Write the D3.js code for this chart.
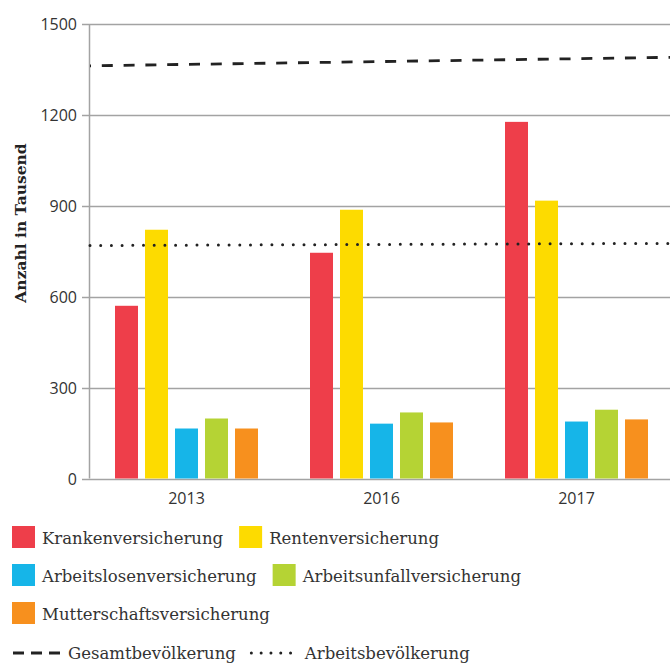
<!DOCTYPE html>
<html>
<head>
<meta charset="utf-8">
<script src="https://cdn.jsdelivr.net/npm/d3@7"></script>
<style>
  body { margin: 0; background: #fff; }
  .tick-label { font-family: "Open Sans", sans-serif; font-size: 16px; fill: #333; }
  .legend-label { font-family: "DejaVu Serif", serif; font-size: 16.5px; fill: #333; }
  .axis-title { font-family: "DejaVu Serif", serif; font-size: 15.5px; font-weight: bold; fill: #222; }
</style>
</head>
<body>
<div id="visualization"></div>
<script>
'use strict';

// values in thousands
const years = ['2013', '2016', '2017'];
const series = ['Krankenversicherung', 'Rentenversicherung', 'Arbeitslosenversicherung', 'Arbeitsunfallversicherung', 'Mutterschaftsversicherung'];
const seriesColors = ['#ee3e4a', '#fddb00', '#16b5e8', '#b5d334', '#f7901e'];

const kranken = [570, 745, 1177];
const renten = [821, 887, 917];
const arbeitslosen = [165, 181, 188];
const arbeitsunfall = [198, 218, 227];
const mutterschaft = [165, 185, 195];

// reference lines, value at left and right edge of the plot
const gesamtBevoelkerung = [1362, 1390];
const arbeitsBevoelkerung = [769, 776];

const yTicks = [0, 300, 600, 900, 1200, 1500];

const width = 670, height = 663;
const margins = { top: 24, left: 89, right: 0, bottom: 184 };

const svg = d3.select('#visualization')
    .append('svg')
    .attr('width', width)
    .attr('height', height);

const values = [kranken, renten, arbeitslosen, arbeitsunfall, mutterschaft];
const data = years.map((year, i) => ({
    year: year,
    bars: series.map((s, j) => ({ key: s, value: values[j][i], color: seriesColors[j] }))
}));

const y = d3.scaleLinear().domain([0, 1500]).range([height - margins.bottom - 0.5, margins.top]);
const x0 = d3.scaleBand().domain(years).range([margins.left, 674]);
const x1 = d3.scaleBand().domain(series).range([0, 143]).paddingInner(7 / 30);

// grid lines and y labels
svg.selectAll('.grid')
    .data(yTicks)
    .enter()
        .append('line')
        .attr('x1', margins.left - 7)
        .attr('x2', width)
        .attr('y1', d => Math.round(y(d)) + 0.5)
        .attr('y2', d => Math.round(y(d)) + 0.5)
        .attr('stroke', '#a3a3a3')
        .attr('stroke-width', 1.5);

svg.selectAll('.y-label')
    .data(yTicks)
    .enter()
        .append('text')
        .classed('tick-label', true)
        .attr('x', margins.left - 12)
        .attr('y', d => y(d) + 6)
        .attr('text-anchor', 'end')
        .text(d => d);

svg.append('line')
    .attr('x1', margins.left + 0.5)
    .attr('x2', margins.left + 0.5)
    .attr('y1', y(1500))
    .attr('y2', y(0))
    .attr('stroke', '#a3a3a3')
    .attr('stroke-width', 1.5);

svg.append('text')
    .classed('axis-title', true)
    .attr('transform', 'translate(26,223) rotate(-90)')
    .attr('text-anchor', 'middle')
    .text('Anzahl in Tausend');

// bars
const groups = svg.selectAll('.year')
    .data(data)
    .enter()
        .append('g')
        .attr('transform', d => 'translate(' + (x0(d.year) + x0.bandwidth() / 2 - 71.5) + ',0)');

groups.selectAll('rect')
    .data(d => d.bars)
    .enter()
        .append('rect')
        .attr('x', d => x1(d.key))
        .attr('width', x1.bandwidth())
        .attr('y', d => y(d.value))
        .attr('height', d => y(0) - y(d.value))
        .attr('fill', d => d.color);

svg.selectAll('.x-label')
    .data(years)
    .enter()
        .append('text')
        .classed('tick-label', true)
        .attr('x', d => x0(d) + x0.bandwidth() / 2)
        .attr('y', 504)
        .attr('text-anchor', 'middle')
        .text(d => d);

// reference lines
const xl = d3.scaleLinear().domain([0, 1]).range([margins.left + 1, width]);
const line = d3.line().x((d, i) => xl(i)).y(d => y(d));

svg.append('path')
    .attr('d', line(gesamtBevoelkerung))
    .attr('fill', 'none')
    .attr('stroke', '#222')
    .attr('stroke-width', 2.8)
    .attr('stroke-dasharray', '11 10.8')
    .attr('stroke-dashoffset', 10);

svg.append('path')
    .attr('d', line(arbeitsBevoelkerung))
    .attr('fill', 'none')
    .attr('stroke', '#222')
    .attr('stroke-width', 3)
    .attr('stroke-linecap', 'round')
    .attr('stroke-dasharray', '0 10.7');

// legend, flowing rows
const legendRows = [[0, 1], [2, 3], [4]];
legendRows.forEach((row, r) => {
    let lx = 12;
    const ly = 526 + r * 38;
    row.forEach(j => {
        svg.append('rect')
            .attr('x', lx).attr('y', ly)
            .attr('width', 23).attr('height', 22)
            .attr('fill', seriesColors[j]);
        const t = svg.append('text')
            .classed('legend-label', true)
            .attr('x', lx + 30)
            .attr('y', ly + 18)
            .text(series[j]);
        lx += 30 + t.node().getComputedTextLength() + 16;
    });
});

const lineLegend = [
    { label: 'Gesamtbevölkerung', dash: '11 7', cap: 'butt', w: 2.8 },
    { label: 'Arbeitsbevölkerung', dash: '0 9.8', cap: 'round', w: 3 }
];
let llx = 13;
lineLegend.forEach(d => {
    svg.append('line')
        .attr('x1', d.cap === 'round' ? llx + 1.5 : llx).attr('x2', llx + 47)
        .attr('y1', 653).attr('y2', 653)
        .attr('stroke', '#222')
        .attr('stroke-width', d.w)
        .attr('stroke-linecap', d.cap)
        .attr('stroke-dasharray', d.dash);
    const t = svg.append('text')
        .classed('legend-label', true)
        .attr('x', llx + 55)
        .attr('y', 659)
        .text(d.label);
    llx += 55 + t.node().getComputedTextLength() + 14;
});
</script>
</body>
</html>
